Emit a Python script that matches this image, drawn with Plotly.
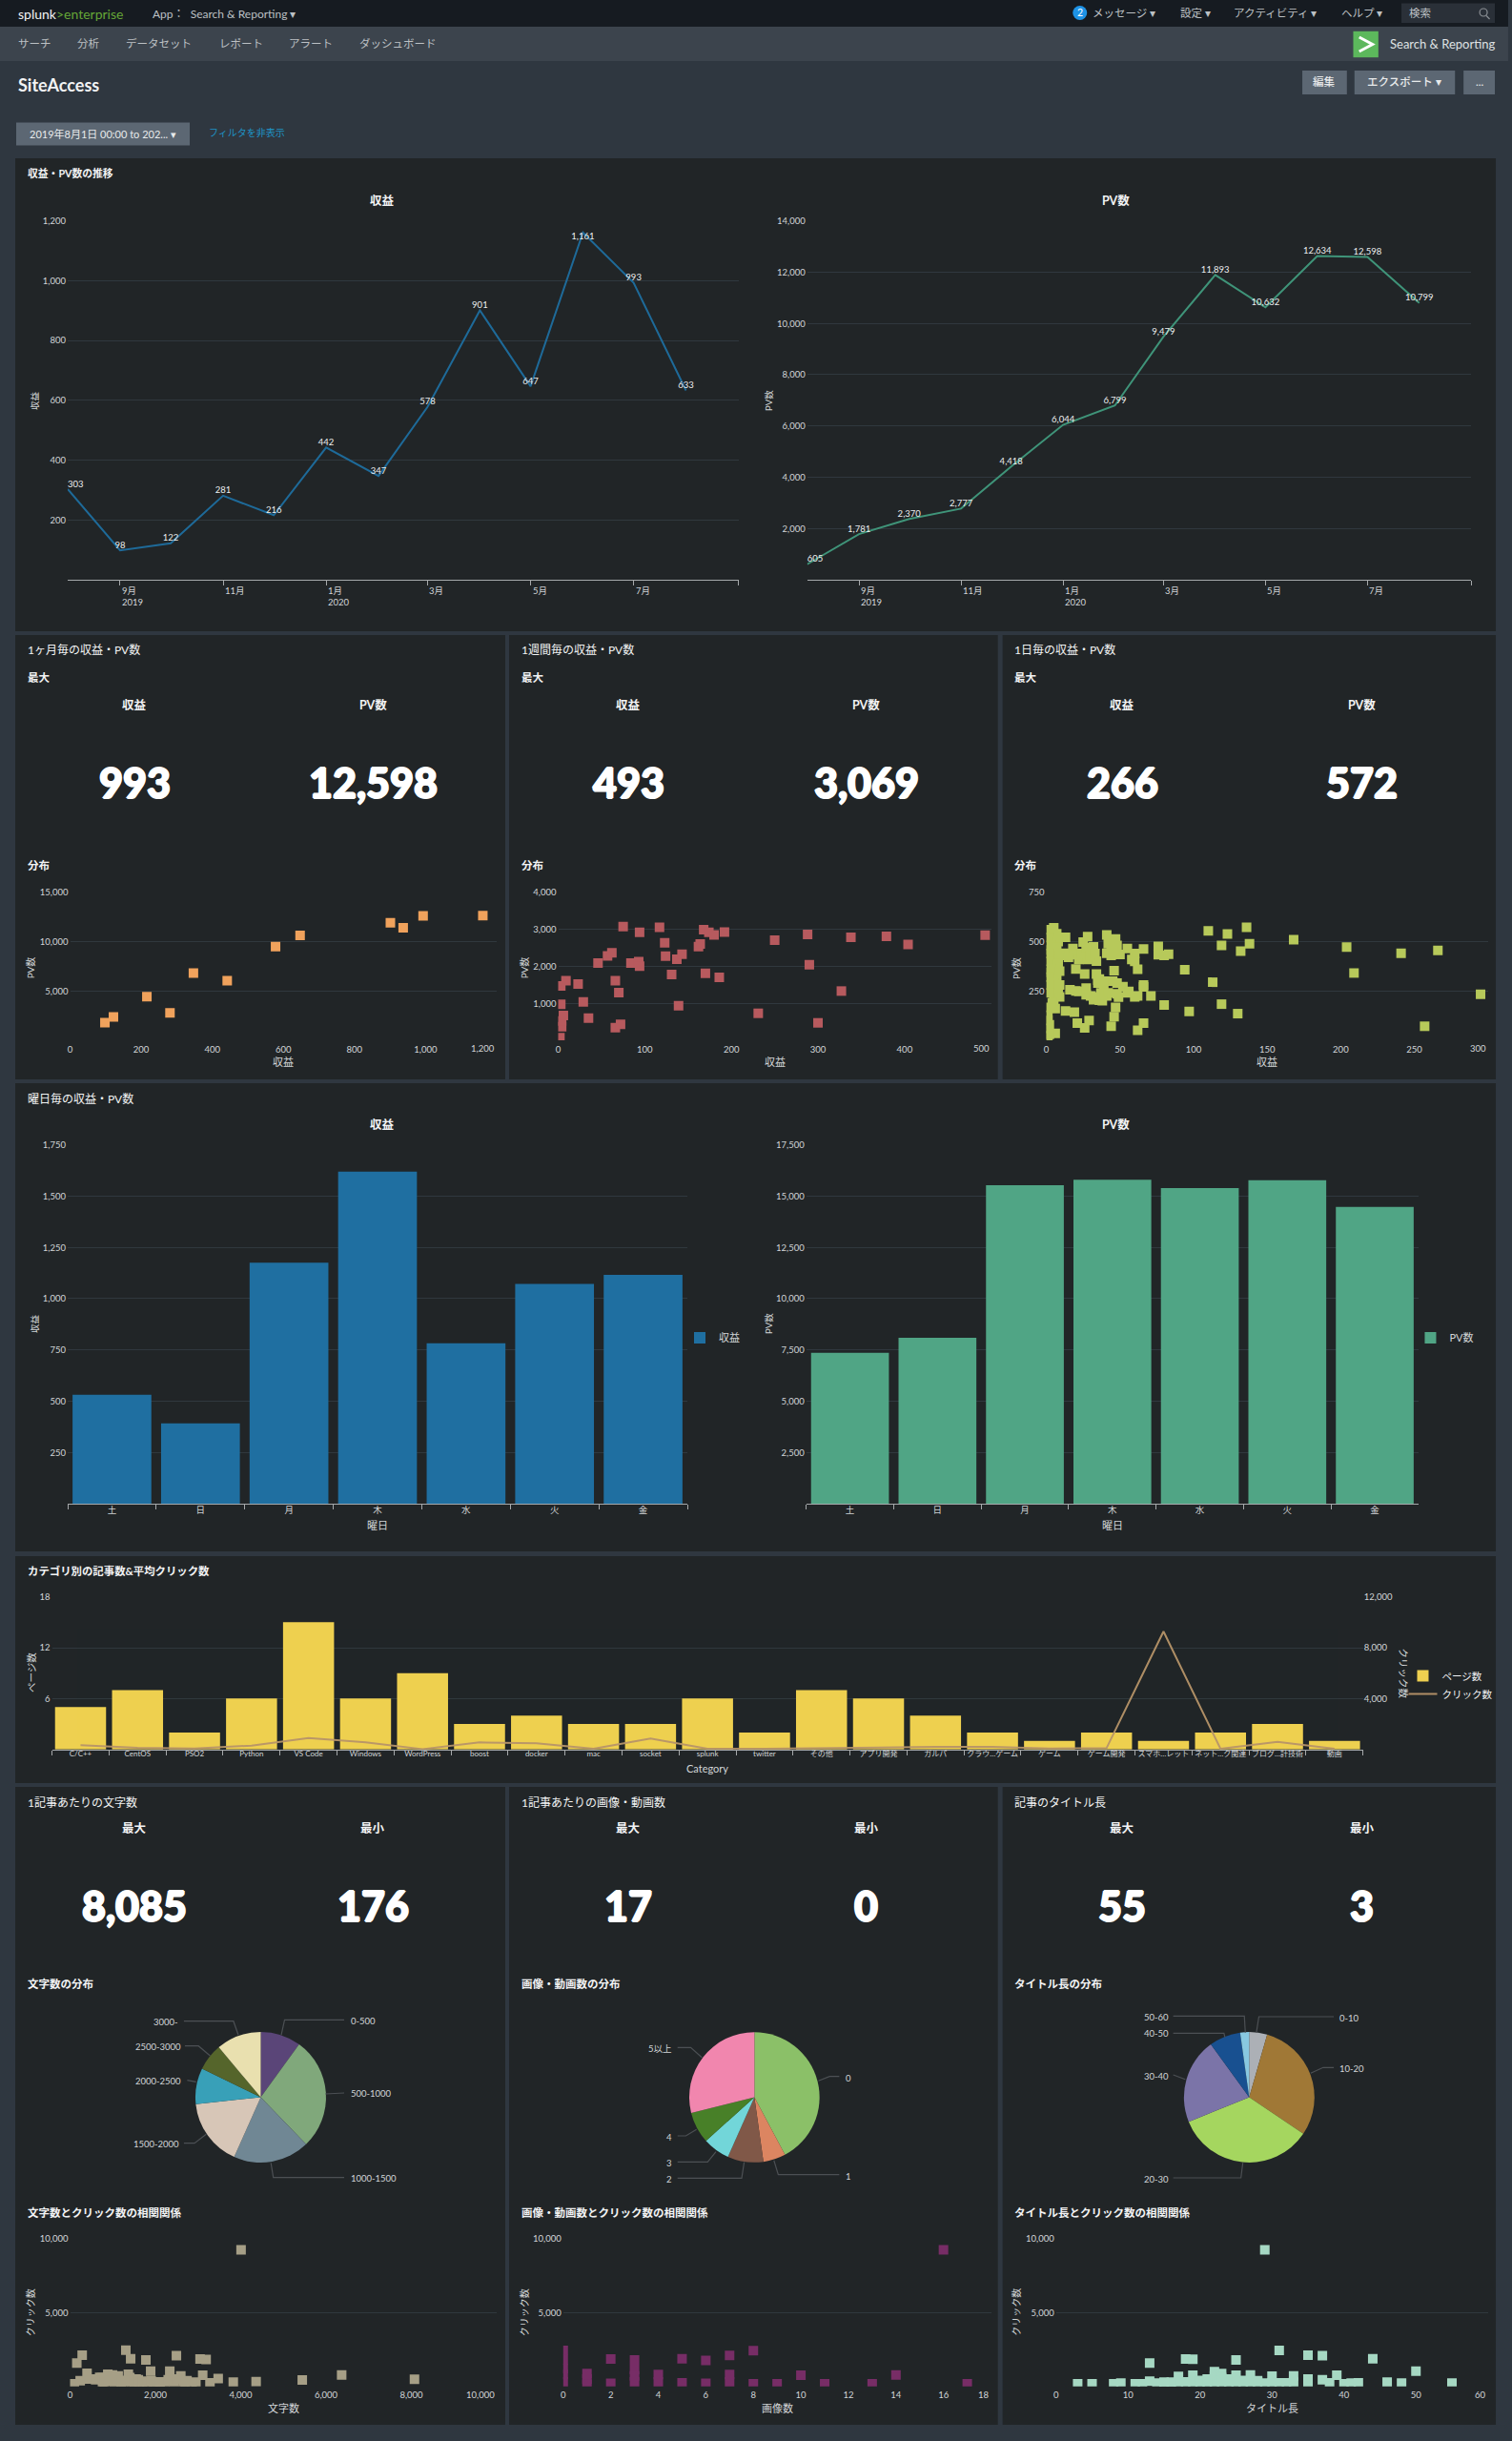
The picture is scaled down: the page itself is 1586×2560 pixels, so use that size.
import plotly.graph_objects as go

# ---------- data ----------
months = ["2019-08-01","2019-09-01","2019-10-01","2019-11-01","2019-12-01","2020-01-01","2020-02-01",
          "2020-03-01","2020-04-01","2020-05-01","2020-06-01","2020-07-01","2020-08-01"]
rev_month = [303,98,122,281,216,442,347,578,901,647,1161,993,633]
pv_month = [605,1781,2370,2777,4418,6044,6799,9479,11893,10632,12634,12598,10799]
month_tick_dates = ["2019-09-01","2019-11-01","2020-01-01","2020-03-01","2020-05-01","2020-07-01"]
month_tick_text = ["9月","11月","1月","3月","5月","7月"]

m_rev = [98,122,216,281,347,442,578,647,901,937,993,1161]
m_pv = [1781,2370,4418,2777,6799,6044,9479,10632,11893,11390,12598,12634]

w_rev = [2,3,3,4,4,6,9,23,29,35,46,57,62,66,72,66,70,75,94,84,93,94,117,123,124,131,139,137,143,162,164,168,174,180,170,186,192,231,250,288,338,379,404,493,290,327,300]
w_pv = [70,1467,970,369,520,669,1613,1519,1038,600,2085,2282,2360,343,429,1613,1287,3069,2917,2085,2128,2000,3050,2634,2274,1776,936,2188,2326,2532,2600,2986,2917,2848,1811,1699,2926,729,2703,2857,2780,2806,2591,2840,2042,1330,471]

d_rev = [136,110,123,119,132,138,168,204,209,241,266,295,257,113,94,119,130,97,80,71,66,62,66,76,76,80,83,
         5,4,5,3,5,8,6,3,7,4,8,5,2,1,2,6,1,13,12,18,19,25,28,29,32,22,28,32,20,26,34,34,35,41,47,42,47,41,47,46,45,55,58,62,
         16,22,27,30,36,39,41,52,56,62,66,49,47,46,44,13,19,21,26,29,
         3,7,2,8,3,7,2,9,2,8,3,9,2,5,2,9,2,9,4,6,1,1,2,
         15,24,27,30,33,44,48,44,50,43,60,60,35,36,40,45,48,37,42,48,55,60,66,33,27,20,32,38]
d_pv = [572,554,538,481,452,489,509,472,341,441,455,233,71,294,357,183,135,146,179,224,87,51,463,476,433,430,436,
        570,538,497,457,417,409,377,344,304,264,248,208,167,127,79,35,23,521,441,465,433,497,525,465,473,409,409,425,361,336,401,336,304,534,513,489,457,441,438,352,299,465,409,360,
        256,248,264,224,203,256,224,272,248,224,280,219,167,119,71,148,143,87,63,100,
        560,540,520,500,480,470,440,430,400,390,360,350,320,290,280,280,240,220,190,160,100,60,30,
        420,440,470,430,440,470,480,430,435,510,440,400,290,310,300,300,290,240,240,235,240,220,270,220,230,250,205,200]

weekdays = ["土","日","月","木","水","火","金"]
wd_rev = [531,392,1175,1619,783,1072,1116]
wd_pv = [7361,8090,15528,15806,15388,15775,14473]

categories = ["C/C++","CentOS","PSO2","Python","VS Code","Windows","WordPress","boost","docker","mac","socket","splunk","twitter",
              "その他","アプリ開発","ガルパ","クラウ…ゲーム","ゲーム","ゲーム開発","スマホ…レット","ネット…ク関連","ブログ…計技術","動画"]
pages = [5,7,2,6,15,6,9,3,4,3,3,6,2,7,6,4,2,1,2,1,2,3,1]
clicks = [325,125,75,300,900,550,25,550,475,50,850,50,50,75,150,200,200,75,100,9275,50,600,50]

pie_chars_labels = ["0-500","500-1000","1000-1500","1500-2000","2000-2500","2500-3000","3000-"]
pie_chars_values = [9,25,17,15,8,6,10]
pie_imgs_labels = ["0","1","2","3","4","5以上"]
pie_imgs_values = [38,5,8,6,7,26]
pie_title_labels = ["0-10","10-20","20-30","30-40","40-50","50-60"]
pie_title_values = [4,27,31,19,7,2]

chars_x = [4008,158,284,100,237,398,524,694,884,996,1127,1307,1366,1420,1549,1719,1777,1889,1946,2112,2337,2493,2596,2741,2949,3047,3189,3109,3279,3472,3826,4361,5443,6366,8073,
           760,1030,1250,1450,1620,2220,2430,2650,2860,
           450,600,750,800,900,1000,1100,1200,1300,1400,1500,1600,1700,1800,1900,2000,2100,2300,2500,2700]
chars_clicks = [9245,1570,2107,172,387,881,494,602,817,774,709,2451,817,1870,494,344,1784,1032,280,280,1032,2085,709,387,280,1849,1827,752,237,537,280,322,430,774,473,
                250,300,280,250,220,220,300,200,180,
                500,450,600,300,550,350,600,250,400,600,300,450,300,250,380,220,300,450,500,260]
imgs_x = [0,0,0,0,0,1,1,1,2,2,3,3,3,3,4,4,5,5,6,6,7,7,7,8,8,9,10,11,13,14,16,17]
imgs_clicks = [2430,1800,1200,800,300,860,500,150,1850,200,1790,1150,700,300,800,300,1870,240,1760,200,2100,800,300,2410,170,170,750,170,170,770,9245,170]
title_x = [29,3,5,8,9,11,12,13,13,14,15,16,17,17,18,19,19,19,20,21,22,22,23,23,24,25,25,25,26,27,27,28,29,30,30,31,31,32,33,33,35,35,35,37,37,38,39,40,41,42,44,46,48,50,55,
           18,20,21,22,23,24,26,28,20,21,16,15]
title_clicks = [9245,172,172,172,215,172,172,1570,344,215,215,215,667,280,1850,1830,752,280,344,494,989,280,860,280,494,1785,752,280,280,774,280,387,215,688,237,2430,237,237,710,280,2107,494,237,2085,451,237,752,172,215,237,1870,280,215,1032,215,
                300,400,350,700,600,250,400,300,200,200,280,280]

# ---------- style ----------
W, H = 1586, 2560
FONT = "Lato, 'Noto Sans CJK JP', sans-serif"
PAGE = "#2f3740"
PANEL = "#212527"
GRID = "#30383e"
TICK = "#d2d5d7"
AXIS = "#a6a9ab"
WHITE = "#f2f3f4"
TS = 9.5
HEAVY = "1px 0 0 #fff, -1px 0 0 #fff, 0 1px 0 #fff, 0 -1px 0 #fff"

def X(p):
    q = p if p <= 790 else 790 + (p - 790) * 0.9949
    return q / W
def Y(p): return 1 - p / H

ann, shp = [], []

def T(text, x, y, size=12, color=WHITE, weight=400, anchor="left", angle=0, shadow=None):
    f = dict(family=FONT, size=size, color=color, weight=weight)
    if shadow:
        f["shadow"] = shadow
    ann.append(dict(text=text, x=X(x), y=Y(y), xref="paper", yref="paper", xanchor=anchor, yanchor="middle",
                    showarrow=False, textangle=angle, font=f))

def R(x0, y0, x1, y1, color, layer="below"):
    shp.append(dict(type="rect", xref="paper", yref="paper", x0=X(x0), x1=X(x1), y0=Y(y0), y1=Y(y1),
                    fillcolor=color, line=dict(width=0), layer=layer))

def L(points, color="#4c5054", width=1.2):
    d = "M " + " L ".join(f"{X(a):.5f} {Y(b):.5f}" for a, b in points)
    shp.append(dict(type="path", xref="paper", yref="paper", path=d, line=dict(color=color, width=width), layer="above"))

# ---------- page chrome ----------
R(0, 0, W, 28, "#161b21")
R(0, 28, W, 64, "#3c444d")
T("splunk<span style='color:#65a637'>&gt;enterprise</span>", 17, 14, 14)
T("App：  Search &amp; Reporting ▾", 158, 14, 12, "#bcc0c4")
shp.append(dict(type="circle", xref="paper", yref="paper", x0=X(1127), x1=X(1142), y0=Y(6), y1=Y(21), fillcolor="#1e93e6", line=dict(width=0)))
T("2", 1134.5, 13.5, 10.5, "#ffffff", anchor="center")
for t, x in [("メッセージ ▾", 1145.5), ("設定 ▾", 1238.5), ("アクティビティ ▾", 1294.5), ("ヘルプ ▾", 1408.5)]:
    T(t, x, 13.5, 11.5, "#bcc0c4")
R(1473.5, 3.5, 1572, 24, "#2a3038")
T("検索", 1480, 13.5, 11.5, "#bcc0c4")
shp.append(dict(type="circle", xref="paper", yref="paper", x0=X(1556), x1=X(1564), y0=Y(9), y1=Y(17), line=dict(color="#8b9095", width=1.2)))
L([(1563, 16.5), (1566.5, 20)], "#8b9095", 1.2)
for t, x in [("サーチ", 17), ("分析", 79), ("データセット", 130), ("レポート", 228), ("アラート", 301), ("ダッシュボード", 375)]:
    T(t, x, 45, 11.5, "#bcc0c4")
R(1422.7, 32.8, 1449.2, 60.2, "#5cb85c")
L([(1429, 39), (1443, 46.5), (1429, 54)], "#ffffff", 3)
T("Search &amp; Reporting", 1459.5, 46.3, 13, "#dfe1e3")
T("SiteAccess", 16.5, 89, 18, "#f2f3f4", 700)
for x0, x1, t in [(1369, 1416, "編集"), (1424, 1530, "エクスポート ▾"), (1539, 1572, "...")]:
    R(x0, 74, x1, 99, "#5c6773")
    T(t, (x0 + x1) / 2, 86, 11.5, "#e8eaeb", 500, "center")
R(17, 128.4, 199, 152.4, "#5c6773")
T("2019年8月1日 00:00 to 202... ▾", 29, 140, 11, "#e8eaeb")
T("フィルタを非表示", 216.5, 139.3, 10, "#1e93c6")

# ---------- panels ----------
P1, P2, P3 = (16, 530), (534, 1048), (1053, 1573)
R(16, 166, 1573, 662, PANEL)
for a, b in (P1, P2, P3):
    R(a, 666, b, 1132, PANEL)
    R(a, 1874, b, 2543, PANEL)
R(16, 1136, 1573, 1627, PANEL)
R(16, 1632, 1573, 1870, PANEL)

T("収益・PV数の推移", 26.5, 181.5, 10.8, WHITE, 700)
T("カテゴリ別の記事数&amp;平均クリック数", 26.5, 1647, 11.4, WHITE, 700)
T("曜日毎の収益・PV数", 26.5, 1152, 12)
for (a, b), t in zip((P1, P2, P3), ("1ヶ月毎の収益・PV数", "1週間毎の収益・PV数", "1日毎の収益・PV数")):
    T(t, a + 10.5, 682, 12)
    T("最大", a + 10.5, 710.7, 11.5, WHITE, 700)
    T("分布", a + 10.5, 907.7, 11.5, WHITE, 700)
kpi_cols = [(141.3, 391.3), (659, 909.4), (1179, 1432)]
for (c1, c2), (v1, v2) in zip(kpi_cols, (("993", "12,598"), ("493", "3,069"), ("266", "572"))):
    T("収益", c1, 739, 12.5, WHITE, 700, "center")
    T("PV数", c2, 739, 12.5, WHITE, 700, "center")
    T(v1, c1, 820, 43, "#ffffff", 900, "center", shadow=HEAVY)
    T(v2, c2, 820, 43, "#ffffff", 900, "center", shadow=HEAVY)
for (a, b), t in zip((P1, P2, P3), ("1記事あたりの文字数", "1記事あたりの画像・動画数", "記事のタイトル長")):
    T(t, a + 10.5, 1890.7, 12)
for (c1, c2), (v1, v2) in zip(kpi_cols, (("8,085", "176"), ("17", "0"), ("55", "3"))):
    T("最大", c1, 1917.7, 12.5, WHITE, 700, "center")
    T("最小", c2, 1917.7, 12.5, WHITE, 700, "center")
    T(v1, c1, 1998, 43, "#ffffff", 900, "center", shadow=HEAVY)
    T(v2, c2, 1998, 43, "#ffffff", 900, "center", shadow=HEAVY)
for (a, b), t1, t2 in zip((P1, P2, P3), ("文字数の分布", "画像・動画数の分布", "タイトル長の分布"),
                          ("文字数とクリック数の相関関係", "画像・動画数とクリック数の相関関係", "タイトル長とクリック数の相関関係")):
    T(t1, a + 10.5, 2080, 11.5, WHITE, 700)
    T(t2, a + 10.5, 2320, 11.5, WHITE, 700)

# ---------- axes ----------
fig = go.Figure()
layout_axes = {}
tickfont = dict(family=FONT, size=TS, color=TICK)
counter = [0]

def add_axes(x0, x1, y0, y1, xax, yax):
    counter[0] += 1
    n = counter[0]
    s = "" if n == 1 else str(n)
    layout_axes["xaxis" + s] = {**dict(domain=[X(x0), X(x1)], anchor="y" + s, tickfont=tickfont, showgrid=False, zeroline=False), **xax}
    layout_axes["yaxis" + s] = {**dict(domain=[Y(y1), Y(y0)], anchor="x" + s, tickfont=tickfont, showgrid=True, gridcolor=GRID, gridwidth=1.3,
                                       zeroline=False, showline=False, ticks="", ticklabelstandoff=1), **yax}
    return "x" + s, "y" + s

def num_ticks(vals, hide=()):
    return dict(tickmode="array", tickvals=vals, ticktext=["" if v in hide else f"{v:,}" for v in vals])

# ---------- monthly lines ----------
def line_chart(x0, x1, vals, color, title, ymax_ticks, ytitle_x, positions):
    xa, ya = add_axes(x0, x1, 231.7, 608,
                      dict(type="date", range=[months[0], "2020-09-01"], tick0="2019-09-01", dtick="M2", showticklabels=False,
                           ticks="outside", ticklen=5, tickcolor=AXIS, showline=True, linecolor=AXIS, linewidth=1.3),
                      dict(range=[0, ymax_ticks[-1]], **num_ticks(ymax_ticks)))
    fig.add_trace(go.Scatter(x=months, y=vals, xaxis=xa, yaxis=ya, mode="lines+text", line=dict(color=color, width=2),
                             text=[f"{v:,}" for v in vals], textposition=positions, cliponaxis=False, showlegend=False,
                             textfont=dict(family=FONT, size=TS, color="#eceeef")))
    for d, t in zip(month_tick_dates, month_tick_text):
        ann.append(dict(text=t, x=d, y=Y(619.5), xref=xa, yref="paper", xanchor="left", yanchor="middle", showarrow=False,
                        font=dict(family=FONT, size=TS, color=TICK)))
    for d, t in (("2019-09-01", "2019"), ("2020-01-01", "2020")):
        ann.append(dict(text=t, x=d, y=Y(631), xref=xa, yref="paper", xanchor="left", yanchor="middle", showarrow=False,
                        font=dict(family=FONT, size=TS, color=TICK)))
    T(title, 400.5 if x0 < 100 else 1172, 210.4, 12.5, WHITE, 700, "center")
    T(title, ytitle_x, 420, 9.5, TICK, 400, "center", -90)

pos_rev = ["top right"] + ["top center"] * 9 + ["bottom center"] + ["top center"] * 2
line_chart(71, 774.5, rev_month, "#1e6a99", "収益", [200, 400, 600, 800, 1000, 1200], 36, pos_rev)
pos_pv = ["top right"] + ["top center"] * 12
line_chart(847, 1547, pv_month, "#3f9479", "PV数", [2000, 4000, 6000, 8000, 10000, 12000, 14000], 806, pos_pv)

# ---------- small scatters ----------
def scatter(x0, x1, y0, y1, xs, ys, color, xticks, yticks, xtitle, ytitle, ytitle_x, xtitle_y, xtick_y):
    xa, ya = add_axes(x0, x1, y0, y1,
                      dict(range=[xticks[0], xticks[-1]], ticks="", ticklabelstandoff=2, **num_ticks(xticks, hide=(xticks[-1],))),
                      dict(range=[yticks[0], yticks[-1]], **num_ticks(yticks, hide=(0,))))
    fig.add_trace(go.Scatter(x=xs, y=ys, xaxis=xa, yaxis=ya, mode="markers", showlegend=False,
                             marker=dict(symbol="square", size=10, color=color, line=dict(width=0))))
    ann.append(dict(text=f"{xticks[-1]:,}", x=xticks[-1], y=Y(xtick_y), xref=xa, yref="paper", xanchor="right", yanchor="middle",
                    showarrow=False, font=tickfont))
    T(xtitle, (x0 + x1) / 2, xtitle_y, 11, TICK, 400, "center")
    T(ytitle, ytitle_x, (y0 + y1) / 2 + (2 if y0 < 2000 else 0), 10, TICK, 400, "center", -90)

row2 = dict(y0=935.7, y1=1091, xtitle="収益", ytitle="PV数", xtitle_y=1113, xtick_y=1099)
scatter(73.5, 521, xs=m_rev, ys=m_pv, color="#f0a25c", xticks=[0, 200, 400, 600, 800, 1000, 1200], yticks=[0, 5000, 10000, 15000], ytitle_x=32, **row2)
scatter(585.5, 1041, xs=w_rev, ys=w_pv, color="#b75a5e", xticks=[0, 100, 200, 300, 400, 500], yticks=[0, 1000, 2000, 3000, 4000], ytitle_x=550, **row2)
scatter(1099.2, 1564.7, xs=d_rev, ys=d_pv, color="#b7c95a", xticks=[0, 50, 100, 150, 200, 250, 300], yticks=[0, 250, 500, 750], ytitle_x=1068, **row2)

# ---------- weekday bars ----------
def bar_chart(x0, x1, vals, color, name, yticks, ytitle_x, legend_id, legend_x, title_x):
    xa, ya = add_axes(x0, x1, 1200.7, 1577,
                      dict(type="category", categoryorder="array", categoryarray=weekdays, tickson="boundaries", ticks="outside",
                           ticklen=5, tickcolor=AXIS, showline=True, linecolor=AXIS, linewidth=1.3, ticklabelstandoff=-3),
                      dict(range=[0, yticks[-1]], **num_ticks(yticks)))
    fig.add_trace(go.Bar(x=weekdays, y=vals, xaxis=xa, yaxis=ya, name=name, marker=dict(color=color, line=dict(width=0)),
                         legend=legend_id, width=0.89))
    T("曜日", (x0 + x1) / 2, 1599, 11, TICK, 400, "center")
    T(name, title_x, 1179, 12.5, WHITE, 700, "center")
    T(name, ytitle_x, 1388, 9.5, TICK, 400, "center", -90)
    layout_axes[legend_id] = dict(x=X(legend_x), y=Y(1403), xanchor="left", yanchor="middle", bgcolor="rgba(0,0,0,0)",
                                  font=dict(family=FONT, size=11, color=TICK), itemwidth=30)

bar_chart(71, 721, wd_rev, "#1f6fa1", "収益", [250, 500, 750, 1000, 1250, 1500, 1750], 36, "legend", 714, 400.5)
bar_chart(846, 1491.5, wd_pv, "#50a585", "PV数", [2500, 5000, 7500, 10000, 12500, 15000, 17500], 806, "legend2", 1484, 1172)

# ---------- category combo ----------
xa, ya = add_axes(54.6, 1433, 1674.7, 1834.7,
                  dict(type="category", categoryorder="array", categoryarray=categories, tickson="boundaries", ticks="outside", ticklen=5,
                       tickcolor=AXIS, showline=True, linecolor=AXIS, linewidth=1.3, tickangle=0, ticklabelstandoff=-3,
                       tickfont=dict(family=FONT, size=8, color=TICK)),
                  dict(range=[0, 18], tickmode="array", tickvals=[6, 12, 18]))
base_dom = layout_axes["yaxis" + ya[1:]]["domain"]
counter[0] += 1
ya2 = "y" + str(counter[0])
layout_axes["yaxis" + str(counter[0])] = dict(domain=base_dom, anchor=xa, overlaying=ya, side="right",
                                              range=[0, 12000], showgrid=False, zeroline=False, tickfont=tickfont, ticks="",
                                              **num_ticks([4000, 8000, 12000]))
fig.add_trace(go.Bar(x=categories, y=pages, xaxis=xa, yaxis=ya, name="ページ数", marker=dict(color="#eed050", line=dict(width=0)),
                     legend="legend3", width=0.895))
fig.add_trace(go.Scatter(x=categories, y=clicks, xaxis=xa, yaxis=ya2, name="クリック数", mode="lines", legend="legend3",
                         line=dict(color="#b79469", width=2), opacity=0.95))
layout_axes["legend3"] = dict(x=X(1476), y=Y(1767), xanchor="left", yanchor="middle", bgcolor="rgba(0,0,0,0)", tracegroupgap=0,
                              font=dict(family=FONT, size=10.5, color=WHITE), itemwidth=30)
T("Category", 742, 1854, 11, TICK, 400, "center")
T("ページ数", 33, 1754, 10.5, TICK, 400, "center", -90)
T("クリック数", 1475, 1755, 10.5, TICK, 400, "center", 90)

# ---------- pies ----------
def pie(cx, cy, r, labels, values, colors):
    fig.add_trace(go.Pie(labels=labels, values=values, sort=False, direction="clockwise", rotation=0, textinfo="none", showlegend=False,
                         marker=dict(colors=colors, line=dict(width=0)), hole=0,
                         domain=dict(x=[X(cx - r), X(cx + r)], y=[Y(cy + r), Y(cy - r)])))

pie(273.5, 2199.5, 68.5, pie_chars_labels, pie_chars_values, ["#5a4578", "#80a87b", "#708794", "#d7c6b7", "#38a0b8", "#55652b", "#e9e0af"])
pie(791.5, 2199.5, 68.5, pie_imgs_labels, pie_imgs_values, ["#8bc068", "#dc8561", "#805848", "#72d6d9", "#488028", "#f186ae"])
pie(1313, 2199.5, 68.8, pie_title_labels, pie_title_values, ["#acb0b6", "#a07836", "#a5d65f", "#7b74a8", "#185090", "#88c8e0"])

pie_notes = [
    ("0-500", 366, 2119.7, "left", [(295, 2134.3), (298.5, 2118.3), (361, 2118.3)]),
    ("500-1000", 366, 2195, "left", [(341.3, 2196), (361, 2195)]),
    ("1000-1500", 366, 2284.3, "left", [(284.2, 2268.3), (286.7, 2283.7), (361, 2283.7)]),
    ("1500-2000", 190, 2248.3, "right", [(216.3, 2238.3), (204, 2247.7), (192.9, 2247.7)]),
    ("2000-2500", 192.3, 2182, "right", [(205.6, 2183.3), (196.4, 2181.7)]),
    ("2500-3000", 192.3, 2146.3, "right", [(220.4, 2156), (208.2, 2145.7), (193.9, 2145.7)]),
    ("3000-", 188.8, 2120.3, "right", [(250, 2134.3), (244.9, 2119.7), (192.9, 2119.7)]),
    ("0", 885.4, 2179.3, "left", [(858.9, 2182.3), (870.6, 2177.7), (880.8, 2177.7)]),
    ("1", 885, 2282, "left", [(811.9, 2265.7), (816.5, 2280.7), (880.8, 2280.7)]),
    ("2", 706.6, 2285.7, "right", [(780.6, 2267.7), (778, 2284.3), (710.7, 2284.3)]),
    ("3", 706.6, 2268.3, "right", [(751, 2256.7), (742.3, 2267.3), (710.7, 2267.3)]),
    ("4", 706.6, 2241.7, "right", [(730.6, 2233.3), (719.4, 2240), (710.7, 2240)]),
    ("5以上", 706.6, 2148.7, "right", [(736.2, 2157.7), (724.5, 2147.3), (710.7, 2147.3)]),
    ("0-10", 1405.8, 2116, "left", [(1320.6, 2131.7), (1323.2, 2115), (1402.2, 2115)]),
    ("10-20", 1405.8, 2169.7, "left", [(1377.8, 2174.3), (1391, 2168.3), (1402.2, 2168.3)]),
    ("20-30", 1229.8, 2285, "right", [(1306.3, 2268.3), (1304.3, 2284), (1232.9, 2284)]),
    ("30-40", 1229.8, 2177, "right", [(1245.6, 2180.7), (1232.9, 2176)]),
    ("40-50", 1229.8, 2132.7, "right", [(1287.4, 2136.7), (1286.4, 2132.3), (1232.9, 2132.3)]),
    ("50-60", 1229.8, 2115.3, "right", [(1308.9, 2131.7), (1307.9, 2114.3), (1232.9, 2114.3)]),
]
for text, x, y, anchor, pts in pie_notes:
    T(text, x, y, 9.5, TICK, 400, anchor)
    L(pts)

# ---------- lower scatters ----------
row5 = dict(y0=2347.7, y1=2502.7, ytitle="クリック数", xtitle_y=2525.7, xtick_y=2511)
click_ticks = [0, 5000, 10000]
scatter(73.5, 521, xs=chars_x, ys=chars_clicks, color="#a69f86", xticks=[0, 2000, 4000, 6000, 8000, 10000], yticks=click_ticks, xtitle="文字数", ytitle_x=32, **row5)
scatter(590.8, 1040.8, xs=imgs_x, ys=imgs_clicks, color="#772d66", xticks=list(range(0, 20, 2)), yticks=click_ticks, xtitle="画像数", ytitle_x=550, **row5)
scatter(1109.4, 1564.7, xs=title_x, ys=title_clicks, color="#a6d8c3", xticks=[0, 10, 20, 30, 40, 50, 60], yticks=click_ticks, xtitle="タイトル長", ytitle_x=1068, **row5)

fig.update_layout(width=W, height=H, autosize=False, margin=dict(l=0, r=0, t=0, b=0, pad=0, autoexpand=False), paper_bgcolor=PAGE, plot_bgcolor="rgba(0,0,0,0)",
                  font=dict(family=FONT, color=TICK), annotations=ann, shapes=shp, bargap=0.11, **layout_axes)

fig.write_html("out.html", config=dict(displayModeBar=False),
               post_script="document.body.style.margin='0';document.body.style.background='%s';document.documentElement.style.overflow='hidden';" % PAGE)
